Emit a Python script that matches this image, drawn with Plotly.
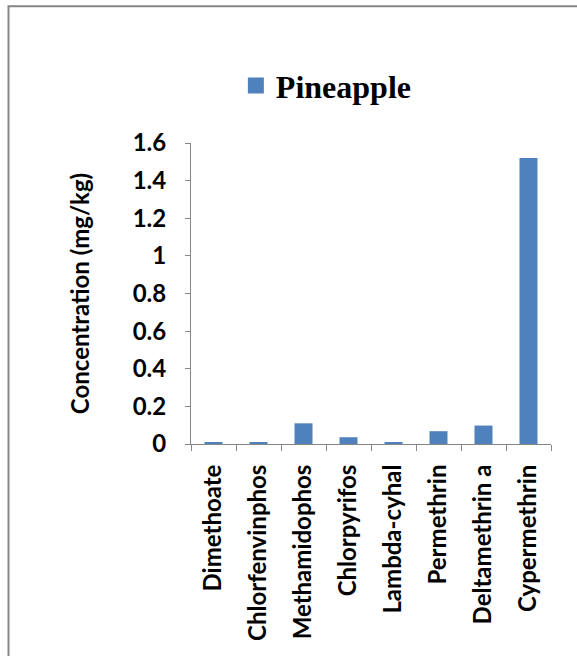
import plotly.graph_objects as go

pesticides = ["Dimethoate", "Chlorfenvinphos", "Methamidophos", "Chlorpyrifos",
              "Lambda-cyhal", "Permethrin", "Deltamethrin a", "Cypermethrin"]
pineapple = [0.006, 0.006, 0.11, 0.036, 0.006, 0.068, 0.098, 1.52]
y_ticks = [0, 0.2, 0.4, 0.6, 0.8, 1, 1.2, 1.4, 1.6]
y_tick_text = ["0", "0.2", "0.4", "0.6", "0.8", "1", "1.2", "1.4", "1.6"]

BAR_BLUE = "#4F81BD"
AXIS_GREY = "#868686"
SANS = "Lato, 'Open Sans', sans-serif"
SERIF = "'Liberation Serif', 'Times New Roman', serif"

fig = go.Figure()
fig.add_trace(go.Bar(
    x=pesticides,
    y=pineapple,
    name="Pineapple",
    marker=dict(color=BAR_BLUE, line=dict(width=0)),
    showlegend=False,
))
# legend entry with a larger square key
fig.add_trace(go.Scatter(
    x=[None], y=[None],
    mode="markers",
    name="<b>Pineapple</b>",
    marker=dict(symbol="square", size=16, color=BAR_BLUE),
    showlegend=True,
))

fig.update_layout(
    width=577,
    height=656,
    margin=dict(l=191, r=26, t=143, b=212),
    paper_bgcolor="white",
    plot_bgcolor="white",
    bargap=0.6,
    showlegend=True,
    legend=dict(
        orientation="h",
        x=0.376, xanchor="center",
        y=1.19, yanchor="middle",
        font=dict(family=SERIF, size=32, color="black"),
        itemwidth=30,
        itemsizing="trace",
    ),
    xaxis=dict(
        type="category",
        tickangle=-90,
        tickson="boundaries",
        ticks="outside",
        ticklen=6,
        tickcolor=AXIS_GREY,
        tickwidth=1,
        ticklabelstandoff=10,
        showline=True,
        linecolor=AXIS_GREY,
        linewidth=1,
        showgrid=False,
        tickfont=dict(family=SANS, size=24, color="black", weight="bold"),
    ),
    yaxis=dict(
        range=[0, 1.6],
        tickvals=y_ticks,
        ticktext=y_tick_text,
        ticks="outside",
        ticklen=5,
        tickcolor=AXIS_GREY,
        ticklabelstandoff=14,
        showline=True,
        linecolor=AXIS_GREY,
        linewidth=1,
        showgrid=False,
        zeroline=False,
        tickfont=dict(family=SANS, size=24, color="black", weight="bold"),
        title=dict(text="Concentration (mg/kg)", standoff=36,
                   font=dict(family=SANS, size=24, color="black", weight="bold")),
    ),
)

# outer chart frame
fig.add_shape(
    type="rect", xref="paper", yref="paper",
    x0=(8.5 - 191) / 360, x1=(590 - 191) / 360,
    y0=(444.3 - 700) / 301, y1=(444.3 - 6.5) / 301,
    line=dict(color=AXIS_GREY, width=2),
    fillcolor="rgba(0,0,0,0)",
    layer="below",
)

fig.write_html("out.html")
